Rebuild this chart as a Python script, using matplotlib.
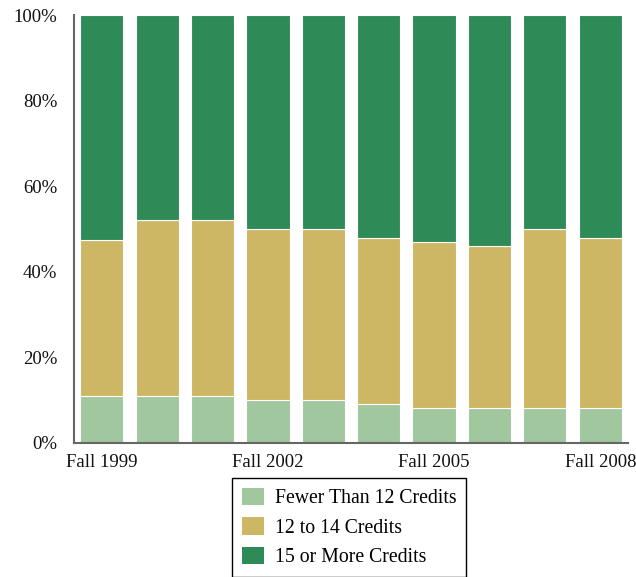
import matplotlib
matplotlib.use("Agg")
import matplotlib.pyplot as plt
import numpy as np

plt.rcParams['font.family'] = ['Liberation Serif', 'DejaVu Serif']

years = ['Fall 1999', 'Fall 2000', 'Fall 2001', 'Fall 2002', 'Fall 2003',
         'Fall 2004', 'Fall 2005', 'Fall 2006', 'Fall 2007', 'Fall 2008']
fewer = [11, 11, 11, 10, 10, 9, 8, 8, 8, 8]
mid = [36.5, 41, 41, 40, 40, 39, 39, 38, 42, 40]
more = [100 - a - b for a, b in zip(fewer, mid)]

labels = ['Fewer Than 12 Credits', '12 to 14 Credits', '15 or More Credits']
colors = ['#A0C79E', '#CDB664', '#2E8A57']

fig = plt.figure(figsize=(6.36, 5.77), dpi=100)
ax = fig.add_axes([0.1164, 0.2328, 0.8710, 0.7407])

x = np.arange(len(years))
w = 0.78
ax.bar(x, fewer, w, color=colors[0], edgecolor='white', linewidth=0.8, label=labels[0])
ax.bar(x, mid, w, bottom=fewer, color=colors[1], edgecolor='white', linewidth=0.8, label=labels[1])
ax.bar(x, more, w, bottom=np.add(fewer, mid), color=colors[2], edgecolor='white', linewidth=0.8, label=labels[2])

ax.set_xlim(-0.5, 9.5)
ax.set_ylim(0, 100)
ax.set_yticks([0, 20, 40, 60, 80, 100])
ax.set_yticklabels(['0%', '20%', '40%', '60%', '80%', '100%'])
ax.set_xticks([0, 3, 6, 9])
ax.set_xticklabels([years[0], years[3], years[6], years[9]])
ax.tick_params(axis='y', length=0, pad=12, labelsize=13.5, colors='#111111')
ax.tick_params(axis='x', length=0, pad=8, labelsize=13.5, colors='#111111')

for s in ['top', 'right']:
    ax.spines[s].set_visible(False)
for s in ['left', 'bottom']:
    ax.spines[s].set_color('#666666')
    ax.spines[s].set_linewidth(1.5)

leg = fig.legend(loc='upper left', bbox_to_anchor=(0.365, 0.1716), fontsize=14.2,
                 frameon=True, fancybox=False, edgecolor='black', framealpha=1,
                 handlelength=1.1, handleheight=1.0, handletextpad=0.55,
                 labelspacing=0.45, borderpad=0.5, borderaxespad=0)
leg.get_frame().set_linewidth(1.0)
for h in leg.legend_handles:
    h.set_edgecolor('none')

fig.savefig('out.png', dpi=100)
